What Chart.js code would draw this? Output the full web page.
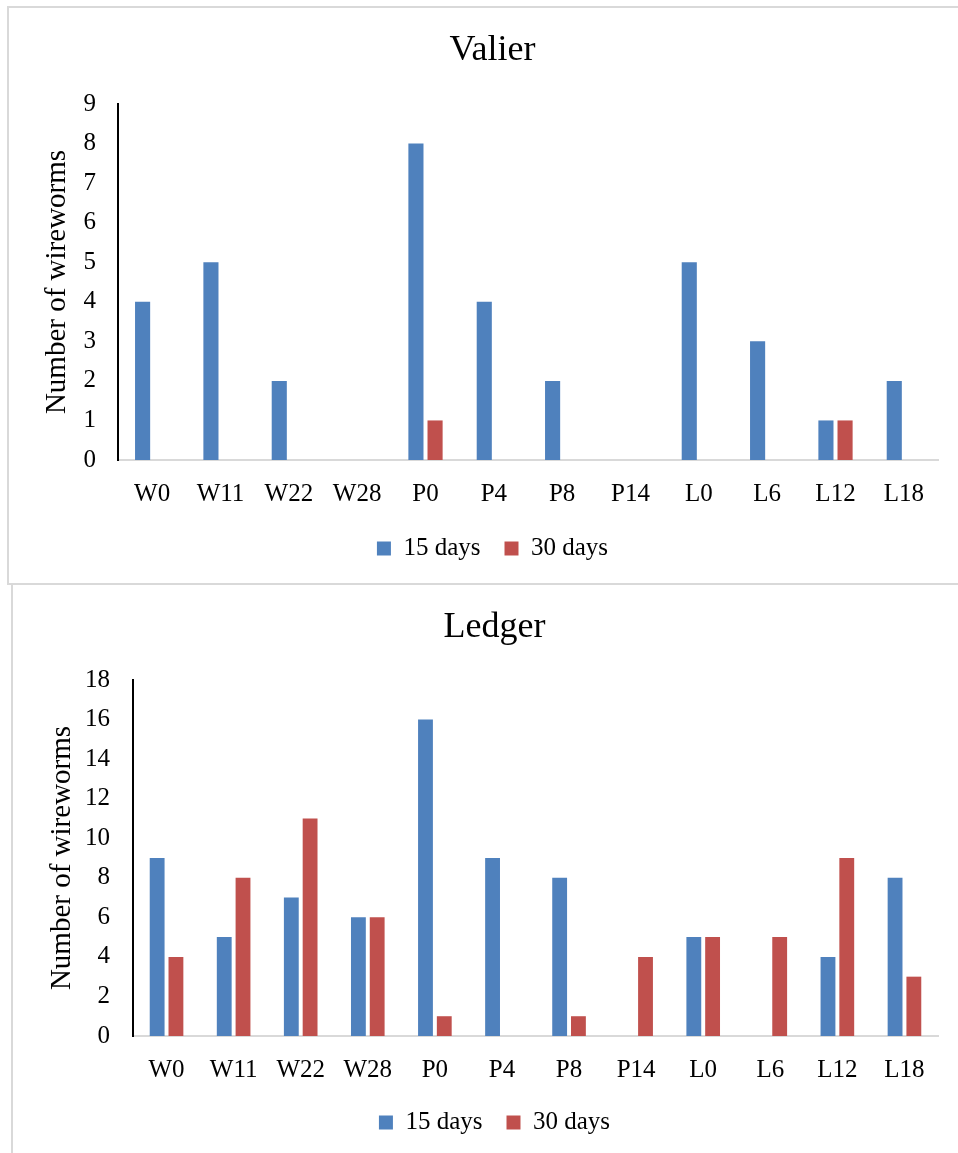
<!DOCTYPE html>
<html>
<head>
<meta charset="utf-8">
<script src="https://cdn.jsdelivr.net/npm/chart.js@4/dist/chart.umd.min.js"></script>
<style>
  html, body { margin: 0; padding: 0; background: #fff; overflow: hidden; width: 958px; height: 1153px; }
  .box { position: absolute; border: 2px solid #d9d9d9; box-sizing: border-box; background: #fff; }
  canvas { position: absolute; }
</style>
</head>
<body>
<div class="box" style="left:7px;top:6px;width:980px;height:579px;"></div>
<div class="box" style="left:11px;top:583px;width:980px;height:600px;"></div>
<canvas id="valier" width="969" height="576" style="left:8px;top:7px;"></canvas>
<canvas id="ledger" width="965" height="573" style="left:12px;top:584px;"></canvas>
<script>
const plots = ['W0', 'W11', 'W22', 'W28', 'P0', 'P4', 'P8', 'P14', 'L0', 'L6', 'L12', 'L18']

const valier15 = [4, 5, 2, 0, 8, 4, 2, 0, 5, 3, 1, 2]
const valier30 = [0, 0, 0, 0, 1, 0, 0, 0, 0, 0, 1, 0]

const ledger15 = [9, 5, 7, 6, 16, 9, 8, 0, 5, 0, 4, 8]
const ledger30 = [4, 8, 11, 6, 1, 0, 1, 4, 5, 5, 9, 3]

const blue = '#4F81BD'
const red = '#C0504D'
const serif = "'Liberation Serif', 'Times New Roman', serif"

Chart.defaults.color = '#000'
Chart.defaults.font.family = serif

function makeChart(id, title, d15, d30, opts) {
    return new Chart(document.getElementById(id), {
        type: 'bar',
        data: {
            labels: plots,
            datasets: [
                { label: '15 days', data: d15, backgroundColor: blue, borderWidth: 0 },
                { label: '30 days', data: d30, backgroundColor: red, borderWidth: 0 }
            ]
        },
        options: {
            responsive: false,
            animation: false,
            categoryPercentage: 0.56,
            barPercentage: 0.79,
            layout: { padding: { left: 29, right: 29, top: 0, bottom: 12 } },
            plugins: {
                tooltip: { enabled: false },
                title: {
                    display: true,
                    text: title,
                    font: { size: 36, weight: 'normal', family: serif },
                    padding: { top: 22.4, bottom: opts.titleBottom }
                },
                legend: {
                    position: 'bottom',
                    labels: {
                        boxWidth: 14,
                        boxHeight: 14,
                        padding: 24,
                        font: { size: 25, family: serif }
                    }
                }
            },
            scales: {
                x: {
                    grid: { display: false, drawTicks: false },
                    border: { display: true, color: '#d9d9d9', width: 2 },
                    ticks: { padding: 19, font: { size: 25, family: serif } },
                    afterFit: function (s) { s.height = opts.xHeight }
                },
                y: {
                    min: 0,
                    max: opts.max,
                    grid: { display: false, drawTicks: false },
                    border: { display: true, color: '#000', width: 2 },
                    ticks: { stepSize: opts.step, padding: opts.tickPad, font: { size: 25, family: serif } },
                    title: {
                        display: true,
                        text: 'Number of wireworms',
                        font: { size: 29, family: serif },
                        padding: { top: opts.titlePad, bottom: 0 }
                    },
                    afterFit: function (s) { s.width = opts.yWidth }
                },
                // empty spacer on the right so the chart area ends where the original does
                spacer: {
                    type: 'linear',
                    position: 'right',
                    grid: { display: false },
                    border: { display: false },
                    ticks: { display: false },
                    afterFit: function (s) { s.width = 10 }
                }
            }
        }
    })
}

makeChart('valier', 'Valier', valier15, valier30,
    { max: 9, step: 1, titleBottom: 31.4, xHeight: 52, tickPad: 22, titlePad: 3.1, yWidth: 81 })

makeChart('ledger', 'Ledger', ledger15, ledger30,
    { max: 18, step: 2, titleBottom: 30.4, xHeight: 50, tickPad: 23, titlePad: 4.1, yWidth: 92 })
</script>
</body>
</html>
